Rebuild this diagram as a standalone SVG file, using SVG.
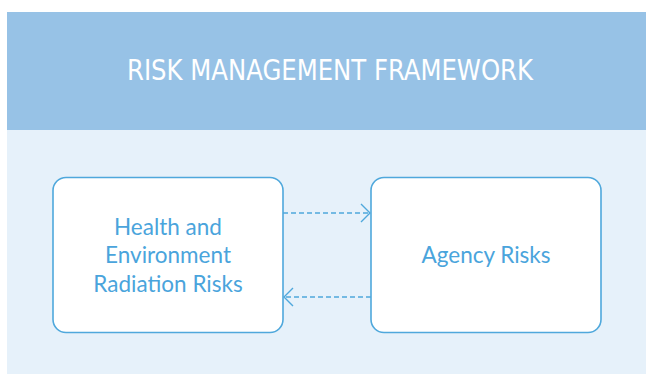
<svg xmlns="http://www.w3.org/2000/svg" width="646" height="374" viewBox="0 0 646 374">
<defs>
<style>
.node rect{fill:#ffffff;stroke:#4fa8dc;stroke-width:1.6}
.lbl{font-family:Lato,"Liberation Sans",sans-serif;font-size:22.5px;fill:#4aa4dc;text-anchor:middle}
.edge{fill:none;stroke:#4fa8dc;stroke-width:1.4;stroke-dasharray:5 3}
.head{fill:none;stroke:#4fa8dc;stroke-width:1.4}
</style>
</defs>
<rect x="7" y="12" width="639" height="118" fill="#97c2e6"/>
<rect x="7" y="130" width="639" height="244" fill="#e6f1fa"/>
<text x="330" y="80" font-family="'DejaVu Sans Condensed','Liberation Sans',sans-serif" font-size="27.5" fill="#ffffff" text-anchor="middle" textLength="406" lengthAdjust="spacingAndGlyphs">RISK MANAGEMENT FRAMEWORK</text>
<g id="connectors">
<line class="edge" x1="283" y1="213" x2="370" y2="213"/>
<polyline class="head" points="361,204 370,213 361,222"/>
<line class="edge" x1="371" y1="297" x2="284" y2="297"/>
<polyline class="head" points="293,288 284,297 293,306"/>
</g>
<g id="health" class="node">
<rect x="53" y="177.5" width="230" height="155" rx="13"/>
<text class="lbl" x="168" y="235">Health and</text>
<text class="lbl" x="168" y="263">Environment</text>
<text class="lbl" x="168" y="292">Radiation Risks</text>
</g>
<g id="agency" class="node">
<rect x="371" y="177.5" width="230" height="155" rx="13"/>
<text class="lbl" x="486" y="263">Agency Risks</text>
</g>
</svg>
